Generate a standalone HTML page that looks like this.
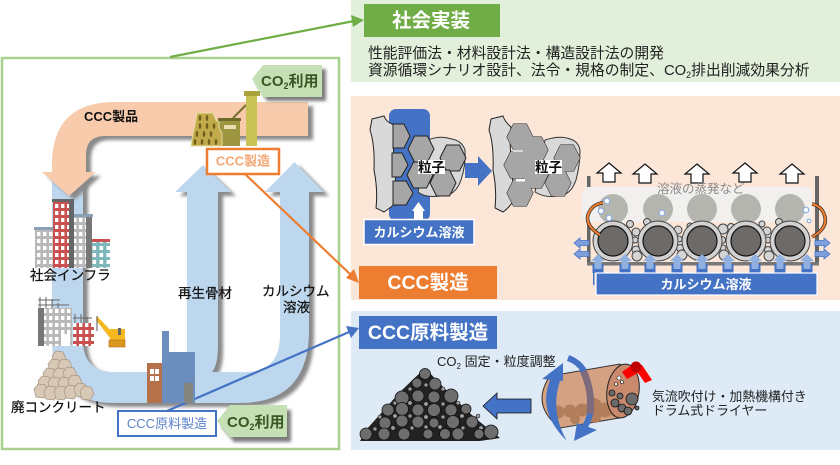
<!DOCTYPE html>
<html><head><meta charset="utf-8"><style>
html,body{margin:0;padding:0;background:#fff}
svg{display:block;filter:blur(.3px)}
text{font-family:"Liberation Sans","Noto Sans CJK JP",sans-serif}
</style></head><body>
<svg width="840" height="465" viewBox="0 0 840 465" xmlns="http://www.w3.org/2000/svg">
<defs>
<filter id="b" x="-20%" y="-20%" width="140%" height="140%"><feGaussianBlur stdDeviation="1.5"/></filter>
<polygon id="hx" points="-13,0 -6.5,-13 6.5,-13 13,0 6.5,13 -6.5,13" fill="#a6a6a6" stroke="#222" stroke-width="1"/>
<polygon id="hf" points="-13,0 -6.5,-13 6.5,-13 13,0 6.5,13 -6.5,13" fill="#a6a6a6"/>
<polygon id="rk" points="-7,-2 -3,-7 4,-6 7,1 3,7 -5,6" fill="#d8c8b6" stroke="#a89580" stroke-width=".7"/>
<path id="ua" d="M0 0 L12 10 L6 10 L6 19 L-6 19 L-6 10 L-12 10 Z" fill="#fff" stroke="#111" stroke-width="1.2"/>
<g id="ba"><rect x="-5.5" y="10" width="11" height="9" fill="#4472c4"/><path d="M0 0 L7 7 L3.5 7 L3.5 15 L-3.5 15 L-3.5 7 L-7 7 Z" fill="#8fb0e0"/></g>
<path id="sa" d="M0 5 L6 0 L6 2.5 L15 2.5 L15 7.5 L6 7.5 L6 10 Z" fill="#7f9fdc" stroke="#4472c4" stroke-width=".8"/>
<pattern id="wg" width="6" height="7" patternUnits="userSpaceOnUse"><rect width="6" height="7" fill="#b9b9b9"/><rect x="1" y="1" width="3.4" height="4" fill="#fff"/></pattern>
<pattern id="wr" width="6" height="7" patternUnits="userSpaceOnUse"><rect width="6" height="7" fill="#c9504f"/><rect x="1" y="1" width="3.4" height="4" fill="#fff"/></pattern>
<pattern id="wt" width="7" height="7" patternUnits="userSpaceOnUse"><rect width="7" height="7" fill="#7fb8bb"/><rect x="1.5" y="1" width="3.6" height="4" fill="#fff"/></pattern>
</defs>

<rect width="840" height="465" fill="#fff"/>

<!-- right panels -->
<rect x="351" y="0" width="489" height="82" fill="#e2efda"/>
<rect x="351" y="96" width="489" height="204" fill="#fbe6d8"/>
<rect x="351" y="311" width="489" height="139" fill="#deebf7"/>

<!-- left frame -->
<rect x="2" y="58" width="337" height="391" fill="#fff" stroke="#a9d18e" stroke-width="2.5"/>

<!-- blue U shadow -->
<path d="M52 158 L52 340 Q52 403 115 403 L240 403 Q309 403 309 330 L309 192 L324 192 L294.5 162 L265 192 L280 192 L280 335 Q280 372 245 372 L212 372 Q218 365 218 345 L218 192 L231 192 L203 165 L175 192 L187 192 L187 372 L115 372 Q83 372 83 340 L83 158 Z" fill="#8a8a8a" transform="translate(5,4)" filter="url(#b)"/>
<path d="M52 158 L52 340 Q52 403 115 403 L240 403 Q309 403 309 330 L309 192 L324 192 L294.5 162 L265 192 L280 192 L280 335 Q280 372 245 372 L212 372 Q218 365 218 345 L218 192 L231 192 L203 165 L175 192 L187 192 L187 372 L115 372 Q83 372 83 340 L83 158 Z" fill="#bdd7ee"/>
<!-- pink arrow -->
<path d="M308 102 L115 102 Q52 102 52 165 L52 172 L42 172 L69 196 L96 172 L86 172 L86 155 Q86 136 105 136 L308 136 Z" fill="#8a8a8a" transform="translate(5,4)" filter="url(#b)"/>
<path d="M308 102 L115 102 Q52 102 52 165 L52 172 L42 172 L69 196 L96 172 L86 172 L86 155 Q86 136 105 136 L308 136 Z" fill="#f8cbad"/>
<text x="84" y="121" font-size="13" font-weight="bold" fill="#111">CCC製品</text>

<!-- CCC factory icon -->
<g>
<rect x="218" y="119" width="22" height="27" fill="#9d9540"/>
<rect x="218" y="118" width="23" height="3" fill="#6d6a2a"/>
<rect x="224" y="125" width="12" height="4" fill="#e6e0b0"/>
<path d="M233 118 L246 105" stroke="#77702f" stroke-width="2"/>
<path d="M197 113 L213 113 L216 120 L219 122 L219 128 L222 133 L222 146 L191 146 L193 133 L195 125 Z" fill="#c2a94a" stroke="#e4dca0" stroke-width="1"/>
<g fill="#6e5f1c"><ellipse cx="200" cy="118" rx="1.3" ry="3"/><ellipse cx="207" cy="118" rx="1.3" ry="3"/><ellipse cx="200" cy="126" rx="1.3" ry="3"/><ellipse cx="207" cy="126" rx="1.3" ry="3"/><ellipse cx="214" cy="126" rx="1.3" ry="3"/><ellipse cx="197" cy="134" rx="1.3" ry="3"/><ellipse cx="204" cy="134" rx="1.3" ry="3"/><ellipse cx="211" cy="134" rx="1.3" ry="3"/><ellipse cx="195" cy="142" rx="1.3" ry="3"/><ellipse cx="202" cy="142" rx="1.3" ry="3"/><ellipse cx="209" cy="142" rx="1.3" ry="3"/><ellipse cx="216" cy="142" rx="1.3" ry="3"/></g>
<rect x="246" y="95" width="11" height="51" fill="#c9c254"/>
<rect x="244" y="91" width="16" height="5" fill="#a9a23a"/>
</g>

<!-- top CO2 tag -->
<path d="M252 79 L263 65 L322 65 L322 97 L263 97 Z" fill="#7c7c7c" transform="translate(4,4)" filter="url(#b)"/>
<path d="M252 79 L263 65 L322 65 L322 97 L263 97 Z" fill="#c5e0b4"/>
<text x="261" y="86" font-size="15" font-weight="bold" fill="#385723">CO<tspan font-size="9" dy="3">2</tspan><tspan dy="-3">利用</tspan></text>

<!-- connectors -->
<path d="M170 57 L354 21" stroke="#70ad47" stroke-width="2.2" fill="none"/>
<path d="M364 20 L351 15 L353 27 Z" fill="#70ad47"/>
<path d="M245 174 L351 275" stroke="#ed7d31" stroke-width="2.2" fill="none"/>
<path d="M359 283 L346 278 L354 269 Z" fill="#ed7d31"/>
<path d="M167 411 L349 332" stroke="#4472c4" stroke-width="2.2" fill="none"/>
<path d="M359 328 L351 338 L346 326 Z" fill="#4472c4"/>

<!-- CCC製造 box -->
<rect x="207" y="149" width="72" height="25" fill="#fff" stroke="#ed7d31" stroke-width="2.5"/>
<text x="243" y="165.500" font-size="13" font-weight="bold" fill="#f4a673" text-anchor="middle">CCC製造</text>

<!-- city buildings -->
<rect x="35" y="229" width="18" height="39" fill="url(#wg)"/><rect x="34" y="227" width="20" height="3" fill="#8ba0b5"/>
<rect x="89" y="241" width="21" height="27" fill="url(#wt)"/><rect x="88" y="239" width="22" height="3" fill="#c9504f"/>
<rect x="71" y="216" width="21" height="52" fill="url(#wg)"/><rect x="86" y="216" width="6" height="52" fill="#777"/><rect x="70" y="214" width="23" height="3" fill="#8ba0b5"/>
<rect x="53" y="201" width="21" height="67" fill="url(#wr)"/><rect x="69" y="201" width="5" height="67" fill="#666"/><rect x="52" y="199" width="22" height="3" fill="#666"/>
<text x="30" y="280" font-size="13.500" fill="#111" stroke="#111" stroke-width=".25">社会インフラ</text>

<!-- construction -->
<rect x="38" y="308" width="34" height="38" fill="url(#wg)"/><rect x="38" y="308" width="6" height="38" fill="#777"/><rect x="61" y="334" width="9" height="12" fill="#fff"/>
<path d="M40 297 V308 M46 297 V308 M52 299 V308 M58 303 V308 M38 300 H60 M38 305 H69" stroke="#666" stroke-width="1" fill="none"/>
<rect x="73" y="323" width="21" height="23" fill="url(#wr)"/>
<path d="M75 314 V323 M81 314 V323 M87 317 V323 M73 318 H92" stroke="#666" stroke-width="1" fill="none"/>
<path d="M97 316 L115 335 L110 338 L96 320 Z" fill="#f5b81f"/>
<path d="M97 316 V331" stroke="#555" stroke-width="1"/>
<rect x="110" y="329" width="15" height="11" fill="#f5b81f"/>
<rect x="118" y="328" width="3" height="7" fill="#666"/>
<rect x="109" y="340" width="16" height="7" fill="#d99a1c" stroke="#b5651d" stroke-width=".6"/>

<!-- rubble -->
<g>
<use href="#rk" x="59" y="358"/><use href="#rk" x="55" y="366"/><use href="#rk" x="65" y="366"/><use href="#rk" x="50" y="375"/><use href="#rk" x="60" y="375"/><use href="#rk" x="70" y="374"/><use href="#rk" x="45" y="383"/><use href="#rk" x="55" y="384"/><use href="#rk" x="65" y="384"/><use href="#rk" x="75" y="382"/><use href="#rk" x="41" y="391"/><use href="#rk" x="51" y="393"/><use href="#rk" x="61" y="393"/><use href="#rk" x="71" y="392"/><use href="#rk" x="81" y="390"/><use href="#rk" x="87" y="393"/>
</g>
<text x="11" y="412" font-size="13.500" fill="#111" stroke="#111" stroke-width=".25">廃コンクリート</text>

<text x="178" y="298" font-size="13.500" fill="#111" stroke="#111" stroke-width=".25">再生骨材</text>
<text x="262" y="296" font-size="13.500" fill="#111" stroke="#111" stroke-width=".25">カルシウム</text>
<text x="283" y="312" font-size="13.500" fill="#111" stroke="#111" stroke-width=".25">溶液</text>

<!-- raw material factory -->
<rect x="147" y="363" width="15" height="40" fill="#b5714a"/>
<g fill="#fff"><rect x="150" y="369" width="4" height="5"/><rect x="155" y="369" width="4" height="5"/><rect x="150" y="376" width="4" height="5"/><rect x="155" y="376" width="4" height="5"/></g>
<path d="M162 331 H169 V352 H195 V403 H162 Z" fill="#6c8ebf"/>
<rect x="184" y="383" width="9" height="20" fill="#85857f"/>

<!-- raw box and tag -->
<rect x="118" y="411" width="98" height="25" fill="#fff" stroke="#4472c4" stroke-width="2"/>
<text x="167" y="428" font-size="13" fill="#5a82c8" text-anchor="middle">CCC原料製造</text>
<path d="M217 421 L230 405 L287 405 L287 437 L230 437 Z" fill="#7c7c7c" transform="translate(4,5)" filter="url(#b)"/>
<path d="M217 421 L230 405 L287 405 L287 437 L230 437 Z" fill="#c5e0b4"/>
<text x="227" y="427" font-size="15" font-weight="bold" fill="#385723">CO<tspan font-size="9" dy="3">2</tspan><tspan dy="-3">利用</tspan></text>

<!-- panel 1 -->
<rect x="364" y="4" width="136" height="33" fill="#70ad47"/>
<text x="431" y="27" font-size="19.500" font-weight="bold" fill="#fff" text-anchor="middle">社会実装</text>
<text x="368" y="58" font-size="14.800" fill="#222">性能評価法・材料設計法・構造設計法の開発</text>
<text x="368" y="75" font-size="14.800" fill="#222">資源循環シナリオ設計、法令・規格の制定、CO<tspan font-size="9" dy="3">2</tspan><tspan dy="-3">排出削減効果分析</tspan></text>

<!-- panel 2 labels -->
<rect x="359" y="266" width="138" height="33" fill="#ed7d31"/>
<text x="428" y="289" font-size="19.500" font-weight="bold" fill="#fff" text-anchor="middle">CCC製造</text>

<!-- particle diagram 1 -->
<rect x="389" y="109" width="41" height="112" rx="7" fill="#4472c4"/>
<path d="M428 140 Q440 135 452 139 Q462 141 465 150 Q466 165 461 180 Q455 197 440 196 Q425 198 418 192 Z" fill="#d9d9d9" stroke="#333" stroke-width="1"/>
<path d="M372 119 L384 116 Q386 122 394 125 Q392 145 395 165 Q396 190 396 203 Q390 208 384 212 L376 208 Q378 190 374 170 Q375 145 370 130 Z" fill="#d9d9d9" stroke="#222" stroke-width="1"/>
<g>
<polygon points="393,124 404,124 410,136 404,148 393,148" fill="#a6a6a6" stroke="#222"/>
<polygon points="392,153 402,153 408,165 401,177 392,177" fill="#a6a6a6" stroke="#222"/>
<polygon points="393,181 406,181 413,193 406,205 393,205" fill="#a6a6a6" stroke="#222"/>
<use href="#hx" x="421" y="149"/><use href="#hx" x="420" y="175"/><use href="#hx" x="453" y="158"/><use href="#hx" x="443" y="183"/>
</g>
<rect x="418" y="160" width="27" height="14" fill="#fff"/>
<text x="431.500" y="172" font-size="13.500" font-weight="bold" fill="#111" text-anchor="middle">粒子</text>
<path d="M412 211 L418.500 202 L425 211 L423 211 L423 220 L414 220 L414 211 Z" fill="#fff"/>
<rect x="364" y="219.500" width="110" height="25" fill="#4472c4" stroke="#fff" stroke-width="1.500"/>
<text x="419" y="237" font-size="13" font-weight="bold" fill="#fff" text-anchor="middle">カルシウム溶液</text>

<path d="M465 163 H478 V156 L492 171 L478 186 V178 H465 Z" fill="#4472c4"/>

<!-- particle diagram 2 -->
<path d="M545 140 Q560 135 570 139 Q578 141 580 150 Q580 165 576 180 Q570 197 556 196 Q545 198 535 192 Z" fill="#d9d9d9" stroke="#333" stroke-width="1"/>
<path d="M491 119 L503 116 Q505 122 511 127 Q509 145 512 165 Q513 190 514 200 Q509 208 503 212 L495 208 Q497 190 493 170 Q494 145 489 130 Z" fill="#d9d9d9" stroke="#222" stroke-width="1"/>
<use href="#hx" x="520" y="137"/><use href="#hx" x="535" y="150"/><use href="#hx" x="517" y="165"/><use href="#hx" x="535" y="175"/><use href="#hx" x="520" y="193"/><use href="#hx" x="567" y="158"/><use href="#hx" x="558" y="183"/>
<use href="#hf" x="520" y="137"/><use href="#hf" x="535" y="150"/><use href="#hf" x="517" y="165"/><use href="#hf" x="535" y="175"/><use href="#hf" x="520" y="193"/><use href="#hf" x="567" y="158"/><use href="#hf" x="558" y="183"/>
<rect x="513" y="150" width="10" height="2" fill="#d9d9d9"/><rect x="516" y="179" width="9" height="2.500" fill="#fff"/>
<rect x="535" y="160" width="27" height="14" fill="#fff"/>
<text x="548.500" y="172" font-size="13.500" font-weight="bold" fill="#111" text-anchor="middle">粒子</text>

<!-- tank -->
<use href="#ua" x="609" y="163"/><use href="#ua" x="645" y="164"/><use href="#ua" x="697" y="164"/><use href="#ua" x="745" y="163"/><use href="#ua" x="792" y="164"/>
<rect x="587" y="176" width="3.500" height="88" fill="#666"/>
<rect x="815" y="176" width="4" height="88" fill="#666"/>
<rect x="587" y="262" width="232" height="3.500" fill="#777"/>

<rect x="582" y="187" width="230" height="35" rx="6" fill="#f2f0ee"/>
<g fill="#b5b5b0"><circle cx="613" cy="209" r="15"/><circle cx="658" cy="209" r="15"/><circle cx="702" cy="209" r="15"/><circle cx="746" cy="209" r="15"/><circle cx="790" cy="209" r="15"/></g>
<text x="657" y="193" font-size="12.500" fill="#8a8a8a">溶液の蒸発など</text>

<g fill="#d4d4d4" stroke="#444" stroke-width="1">
<circle cx="630" cy="224" r="3.500"/><circle cx="636" cy="232" r="4"/><circle cx="635" cy="240" r="3"/><circle cx="636" cy="250" r="4"/><circle cx="637" cy="256" r="5"/><circle cx="647" cy="222" r="3.500"/>
<circle cx="678" cy="230" r="4"/><circle cx="679" cy="239" r="3"/><circle cx="680" cy="248" r="3.500"/><circle cx="682" cy="255" r="5"/><circle cx="690" cy="226" r="3"/>
<circle cx="723" cy="229" r="5"/><circle cx="722" cy="240" r="3.500"/><circle cx="723" cy="248" r="3"/><circle cx="724" cy="255" r="5"/><circle cx="731" cy="227" r="3.500"/>
<circle cx="767" cy="231" r="4"/><circle cx="768" cy="240" r="3"/><circle cx="768" cy="250" r="3.500"/><circle cx="769" cy="256" r="5"/><circle cx="762" cy="224" r="3"/><circle cx="779" cy="222" r="3.500"/>
</g>
<g>
<g fill="#d2d2d2" stroke="#444" stroke-width="1"><circle cx="613" cy="241" r="20"/><circle cx="658" cy="241" r="20"/><circle cx="702" cy="241" r="20"/><circle cx="746" cy="241" r="20"/><circle cx="790" cy="241" r="20"/></g>
<g fill="#6e6a68" stroke="#111" stroke-width="1.200"><circle cx="613" cy="241" r="15"/><circle cx="658" cy="241" r="15"/><circle cx="702" cy="241" r="15"/><circle cx="746" cy="241" r="15"/><circle cx="790" cy="241" r="15"/></g>
</g>
<g fill="#fff" stroke="#8fb0e0" stroke-width="1.200"><circle cx="607" cy="201" r="2.800"/><circle cx="601" cy="211" r="2.800"/><circle cx="609" cy="218" r="2.800"/><circle cx="662" cy="213" r="2.800"/><circle cx="806" cy="210" r="2.800"/><circle cx="809" cy="221" r="1.800"/></g>

<path d="M600 235 Q580 222 592 208 Q597 203 603 203" fill="none" stroke="#222" stroke-width="3.500"/>
<path d="M600 235 Q580 222 592 208 Q597 203 603 203" fill="none" stroke="#ed7d31" stroke-width="2.200"/>
<path d="M812 237 Q832 226 822 210 Q818 205 812 204" fill="none" stroke="#222" stroke-width="3.500"/>
<path d="M812 237 Q832 226 822 210 Q818 205 812 204" fill="none" stroke="#ed7d31" stroke-width="2.200"/>

<g><use href="#ba" x="598" y="254"/><use href="#ba" x="625" y="254"/><use href="#ba" x="650" y="254"/><use href="#ba" x="677" y="254"/><use href="#ba" x="702" y="254"/><use href="#ba" x="728" y="254"/><use href="#ba" x="755" y="254"/><use href="#ba" x="780" y="254"/><use href="#ba" x="807" y="254"/></g>
<use href="#sa" x="574" y="238"/><use href="#sa" x="574" y="249"/>
<use href="#sa" transform="translate(830,238) scale(-1,1)"/><use href="#sa" transform="translate(830,249) scale(-1,1)"/>
<rect x="593" y="270" width="1.500" height="15" fill="#4472c4"/>
<rect x="596" y="273" width="221" height="22" fill="#4472c4" stroke="#fff" stroke-width="1.200"/>
<text x="706" y="289" font-size="13" font-weight="bold" fill="#fff" text-anchor="middle">カルシウム溶液</text>

<!-- panel 3 -->
<rect x="359" y="316" width="138" height="33" fill="#4472c4"/>
<text x="428" y="339" font-size="19.500" font-weight="bold" fill="#fff" text-anchor="middle">CCC原料製造</text>
<text x="437" y="366" font-size="13" fill="#222">CO<tspan font-size="8" dy="3">2</tspan><tspan dy="-3"> 固定・粒度調整</tspan></text>

<!-- pile -->
<path d="M360 441 L366 430 L400 392 L425 368 L448 392 L475 418 L500 438 L480 441 Z" fill="#222"/>
<g fill="#a0a0a0" stroke="#111" stroke-width=".5">
<circle cx="410" cy="389" r="2"/><circle cx="426" cy="385" r="2"/><circle cx="443" cy="389" r="2"/><circle cx="395" cy="403" r="2"/><circle cx="410" cy="403" r="2.200"/><circle cx="426" cy="404" r="2.200"/><circle cx="443" cy="404" r="2"/><circle cx="458" cy="403" r="2"/><circle cx="380" cy="417" r="2"/><circle cx="395" cy="416" r="2.200"/><circle cx="410" cy="416" r="2"/><circle cx="426" cy="417" r="2.200"/><circle cx="443" cy="417" r="2"/><circle cx="462" cy="416" r="2.200"/><circle cx="478" cy="416" r="2"/><circle cx="375" cy="429" r="2"/><circle cx="393" cy="428" r="2.200"/><circle cx="412" cy="428" r="2"/><circle cx="426" cy="427" r="2"/><circle cx="440" cy="427" r="2.200"/><circle cx="463" cy="428" r="2"/><circle cx="481" cy="428" r="2.200"/>
</g>
<g fill="#6e6e6e" stroke="#111" stroke-width=".8">
<circle cx="425" cy="374" r="5.500"/><circle cx="417" cy="383" r="5"/><circle cx="435" cy="384" r="6"/><circle cx="402" cy="398" r="7"/><circle cx="418" cy="396" r="6"/><circle cx="434" cy="397" r="6"/><circle cx="451" cy="396" r="7"/><circle cx="388" cy="410" r="6"/><circle cx="402" cy="409" r="6.500"/><circle cx="418" cy="410" r="6"/><circle cx="434" cy="410" r="6.500"/><circle cx="451" cy="410" r="6"/><circle cx="466" cy="409" r="5"/><circle cx="385" cy="423" r="6"/><circle cx="402" cy="421" r="6"/><circle cx="418" cy="422" r="6"/><circle cx="434" cy="423" r="5"/><circle cx="453" cy="422" r="6.500"/><circle cx="472" cy="422" r="6"/><circle cx="366" cy="434" r="6"/><circle cx="384" cy="434" r="6"/><circle cx="404" cy="434" r="6"/><circle cx="428" cy="434" r="5"/><circle cx="445" cy="434" r="5.500"/><circle cx="458" cy="434" r="6"/><circle cx="479" cy="434" r="5"/><circle cx="491" cy="432" r="7"/>
</g>
<path d="M483 406 L497 393 V399 H531 V413 H497 V419 Z" fill="#4472c4" stroke="#111" stroke-width=".8"/>

<!-- drum -->
<path d="M550 376 L620 364 Q642 390 625 417 L560 428 Q530 405 550 376 Z" fill="#d4a283" stroke="#333" stroke-width="1"/>
<g fill="#b27d5a"><circle cx="558" cy="412" r="6.500"/><circle cx="570" cy="411" r="6.500"/><circle cx="582" cy="410" r="6.500"/><circle cx="594" cy="406" r="8"/><circle cx="605" cy="410" r="7.500"/><circle cx="615" cy="412" r="5"/><circle cx="575" cy="419" r="5"/><circle cx="595" cy="417" r="6"/></g>
<path d="M583 370 Q593 392 590 415" fill="none" stroke="#7d6a7a" stroke-width="7"/>
<ellipse cx="623" cy="391" rx="16" ry="27" transform="rotate(8 623 391)" fill="#c98a6d" stroke="#222" stroke-width="1"/>
<g fill="#6b6b6b" stroke="#111" stroke-width=".8"><circle cx="632" cy="399" r="6"/><circle cx="615" cy="403" r="4"/><circle cx="622" cy="408" r="4"/><circle cx="628" cy="411" r="4"/><circle cx="612" cy="393" r="3"/><circle cx="620" cy="396" r="3"/><circle cx="637" cy="408" r="2"/></g>
<g fill="#fff" stroke="#111" stroke-width=".6"><circle cx="619" cy="378" r="2"/><circle cx="622" cy="382" r="1.500"/><circle cx="616" cy="384" r="1.500"/></g>
<path d="M622 372 L632 365 L642 365 L652 380 L645 383 L638 373 L627 379 Z" fill="#f00"/>
<circle cx="636" cy="367" r="5.500" fill="#c00000"/>

<!-- rotation arrows -->
<path d="M552 376 Q535 410 567 441 Q549 410 561 378 Z" fill="#4472c4"/>
<path d="M542 379 L563 363 L563 381 Z" fill="#4472c4"/>
<path d="M568 358 Q579 362 584 371" fill="none" stroke="#4472c4" stroke-width="6"/>
<path d="M590 414 Q588 422 584 428" fill="none" stroke="#4472c4" stroke-width="6"/>
<path d="M574 441 L597 430 L577 423 Z" fill="#4472c4"/>

<text x="652" y="401" font-size="12.900" fill="#222">気流吹付け・加熱機構付き</text>
<text x="652" y="415" font-size="12.900" fill="#222">ドラム式ドライヤー</text>
</svg>
</body></html>
